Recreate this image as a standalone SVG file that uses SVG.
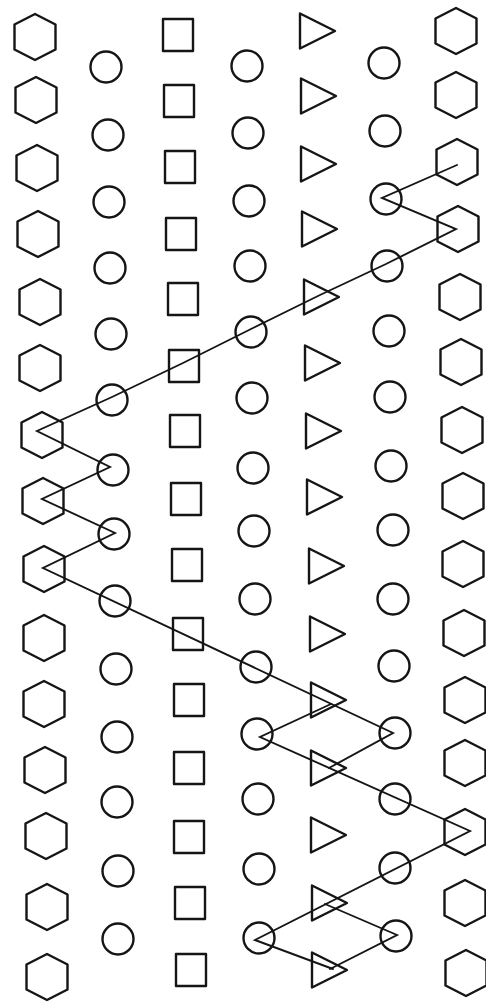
<svg xmlns="http://www.w3.org/2000/svg" xmlns:xlink="http://www.w3.org/1999/xlink" width="486" height="1004" viewBox="0 0 486 1004">
<style>
.s{fill:none;stroke:#151515;stroke-width:2.4;stroke-linejoin:round}
.ln{fill:none;stroke:#151515;stroke-width:1.9;stroke-linejoin:miter;stroke-linecap:round}
</style>
<defs>
<polygon id="hex" class="s" points="0,-23 20.5,-12.5 20.5,12.5 0,23 -20.5,12.5 -20.5,-12.5"/>
<circle id="cir" class="s" r="15.5"/>
<rect id="sq" class="s" x="-15" y="-16" width="30" height="32"/>
<polygon id="tri" class="s" points="1,-17.5 36,0 1,17.5"/>
</defs>
<rect width="486" height="1004" fill="#ffffff"/>
<g id="col1">
<g id="h1-1"><use href="#hex" x="35" y="37"/></g>
<g id="h1-2"><use href="#hex" x="36" y="100"/></g>
<g id="h1-3"><use href="#hex" x="37" y="168"/></g>
<g id="h1-4"><use href="#hex" x="38" y="234"/></g>
<g id="h1-5"><use href="#hex" x="40" y="302"/></g>
<g id="h1-6"><use href="#hex" x="40" y="368"/></g>
<g id="h1-7"><use href="#hex" x="42" y="435"/></g>
<g id="h1-8"><use href="#hex" x="43" y="501"/></g>
<g id="h1-9"><use href="#hex" x="44" y="569"/></g>
<g id="h1-10"><use href="#hex" x="44" y="638"/></g>
<g id="h1-11"><use href="#hex" x="44" y="704"/></g>
<g id="h1-12"><use href="#hex" x="45" y="770"/></g>
<g id="h1-13"><use href="#hex" x="46" y="836"/></g>
<g id="h1-14"><use href="#hex" x="47" y="907"/></g>
<g id="h1-15"><use href="#hex" x="47" y="977"/></g>
</g>
<g id="col2">
<g id="c2-1"><use href="#cir" x="106" y="67"/></g>
<g id="c2-2"><use href="#cir" x="108" y="135"/></g>
<g id="c2-3"><use href="#cir" x="109" y="202"/></g>
<g id="c2-4"><use href="#cir" x="110" y="268"/></g>
<g id="c2-5"><use href="#cir" x="111" y="334"/></g>
<g id="c2-6"><use href="#cir" x="112" y="400"/></g>
<g id="c2-7"><use href="#cir" x="113" y="470"/></g>
<g id="c2-8"><use href="#cir" x="114" y="534"/></g>
<g id="c2-9"><use href="#cir" x="115" y="601"/></g>
<g id="c2-10"><use href="#cir" x="116" y="669"/></g>
<g id="c2-11"><use href="#cir" x="117" y="737"/></g>
<g id="c2-12"><use href="#cir" x="117" y="802"/></g>
<g id="c2-13"><use href="#cir" x="118" y="871"/></g>
<g id="c2-14"><use href="#cir" x="118" y="939"/></g>
</g>
<g id="col3">
<g id="s3-1"><use href="#sq" x="178" y="35"/></g>
<g id="s3-2"><use href="#sq" x="179" y="101"/></g>
<g id="s3-3"><use href="#sq" x="180" y="167"/></g>
<g id="s3-4"><use href="#sq" x="181" y="234"/></g>
<g id="s3-5"><use href="#sq" x="183" y="299"/></g>
<g id="s3-6"><use href="#sq" x="184" y="366"/></g>
<g id="s3-7"><use href="#sq" x="185" y="431"/></g>
<g id="s3-8"><use href="#sq" x="186" y="499"/></g>
<g id="s3-9"><use href="#sq" x="187" y="565"/></g>
<g id="s3-10"><use href="#sq" x="188" y="634"/></g>
<g id="s3-11"><use href="#sq" x="189" y="700"/></g>
<g id="s3-12"><use href="#sq" x="189" y="768"/></g>
<g id="s3-13"><use href="#sq" x="189" y="837"/></g>
<g id="s3-14"><use href="#sq" x="190" y="903"/></g>
<g id="s3-15"><use href="#sq" x="191" y="970"/></g>
</g>
<g id="col4">
<g id="c4-1"><use href="#cir" x="247" y="66"/></g>
<g id="c4-2"><use href="#cir" x="248" y="133"/></g>
<g id="c4-3"><use href="#cir" x="249" y="201"/></g>
<g id="c4-4"><use href="#cir" x="250" y="266"/></g>
<g id="c4-5"><use href="#cir" x="251" y="332"/></g>
<g id="c4-6"><use href="#cir" x="252" y="398"/></g>
<g id="c4-7"><use href="#cir" x="253" y="468"/></g>
<g id="c4-8"><use href="#cir" x="254" y="531"/></g>
<g id="c4-9"><use href="#cir" x="255" y="599"/></g>
<g id="c4-10"><use href="#cir" x="256" y="667"/></g>
<g id="c4-11"><use href="#cir" x="257" y="734"/></g>
<g id="c4-12"><use href="#cir" x="258" y="799"/></g>
<g id="c4-13"><use href="#cir" x="259" y="869"/></g>
<g id="c4-14"><use href="#cir" x="259" y="938"/></g>
</g>
<g id="col5">
<g id="t5-1"><use href="#tri" x="299" y="31"/></g>
<g id="t5-2"><use href="#tri" x="300" y="96"/></g>
<g id="t5-3"><use href="#tri" x="300" y="164"/></g>
<g id="t5-4"><use href="#tri" x="301" y="229"/></g>
<g id="t5-5"><use href="#tri" x="303" y="297"/></g>
<g id="t5-6"><use href="#tri" x="304" y="363"/></g>
<g id="t5-7"><use href="#tri" x="305" y="431"/></g>
<g id="t5-8"><use href="#tri" x="306" y="497"/></g>
<g id="t5-9"><use href="#tri" x="308" y="566"/></g>
<g id="t5-10"><use href="#tri" x="309" y="634"/></g>
<g id="t5-11"><use href="#tri" x="310" y="700"/></g>
<g id="t5-12"><use href="#tri" x="310" y="768"/></g>
<g id="t5-13"><use href="#tri" x="310" y="835"/></g>
<g id="t5-14"><use href="#tri" x="311" y="903"/></g>
<g id="t5-15"><use href="#tri" x="311" y="970"/></g>
</g>
<g id="col6">
<g id="c6-1"><use href="#cir" x="384" y="63"/></g>
<g id="c6-2"><use href="#cir" x="385" y="131"/></g>
<g id="c6-3"><use href="#cir" x="386" y="199"/></g>
<g id="c6-4"><use href="#cir" x="387" y="266"/></g>
<g id="c6-5"><use href="#cir" x="389" y="331"/></g>
<g id="c6-6"><use href="#cir" x="390" y="397"/></g>
<g id="c6-7"><use href="#cir" x="391" y="466"/></g>
<g id="c6-8"><use href="#cir" x="393" y="530"/></g>
<g id="c6-9"><use href="#cir" x="393" y="599"/></g>
<g id="c6-10"><use href="#cir" x="394" y="666"/></g>
<g id="c6-11"><use href="#cir" x="395" y="733"/></g>
<g id="c6-12"><use href="#cir" x="395" y="799"/></g>
<g id="c6-13"><use href="#cir" x="395" y="868"/></g>
<g id="c6-14"><use href="#cir" x="396" y="936"/></g>
</g>
<g id="col7">
<g id="h7-1"><use href="#hex" x="456" y="31"/></g>
<g id="h7-2"><use href="#hex" x="456" y="95"/></g>
<g id="h7-3"><use href="#hex" x="457" y="162"/></g>
<g id="h7-4"><use href="#hex" x="458" y="229"/></g>
<g id="h7-5"><use href="#hex" x="460" y="297"/></g>
<g id="h7-6"><use href="#hex" x="461" y="362"/></g>
<g id="h7-7"><use href="#hex" x="462" y="430"/></g>
<g id="h7-8"><use href="#hex" x="463" y="496"/></g>
<g id="h7-9"><use href="#hex" x="463" y="564"/></g>
<g id="h7-10"><use href="#hex" x="464" y="633"/></g>
<g id="h7-11"><use href="#hex" x="465" y="700"/></g>
<g id="h7-12"><use href="#hex" x="465" y="763"/></g>
<g id="h7-13"><use href="#hex" x="465" y="832"/></g>
<g id="h7-14"><use href="#hex" x="465" y="903"/></g>
<g id="h7-15"><use href="#hex" x="466" y="973"/></g>
</g>
<g id="connectors">
<polyline class="ln" points="457,165 382,198 456,229 386,264 320,295 253,328 183,363 112,397 37,431 110,467 42,499 115,533 43,568 393,733 329,768"/>
<polyline class="ln" points="331,704 260,737 470,831 255,940 333,969"/>
<polyline class="ln" points="325,904 397,935 330,969"/>
</g>
</svg>
